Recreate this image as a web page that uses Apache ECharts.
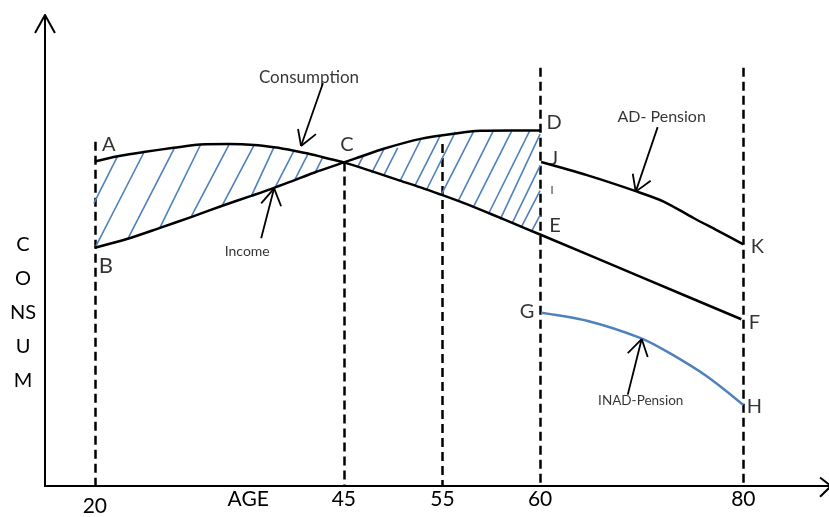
<!DOCTYPE html>
<html><head><meta charset="utf-8">
<script src="https://cdn.jsdelivr.net/npm/echarts@6/dist/echarts.min.js"></script>
<style>html,body{margin:0;padding:0;background:#fff}#c{width:829px;height:517px}</style>
</head><body><div id="c"></div>
<script>
// ---- data (schematic units: x = position along age axis, y = consumption level 0..100) ----
const ageLabels = ['20', '45', '55', '60', '80'];
const agePositions = [5.0, 30.0, 39.9, 49.7, 70.1];
const axisTitlePos = 20.4;
const axisTitle = 'AGE';
const dashTops = [73.1, 68.7, 72.6, 88.8, 88.8];

const consumption = [[5.0,68.9],[7.3,70.0],[9.9,70.9],[12.9,71.8],[15.6,72.5],[18.5,72.6],[21.0,72.4],[23.0,71.9],[25.0,71.2],[26.4,70.6],[27.9,69.8],[30.0,68.7],[32.7,66.9],[35.4,65.0],[37.7,63.4],[39.7,61.9],[42.0,60.1],[44.7,57.8],[47.2,55.6],[49.7,53.4],[59.8,44.4],[69.9,35.4]];
const income = [[5.0,50.6],[8.3,52.5],[11.4,54.7],[14.8,57.2],[17.8,59.5],[20.7,61.6],[23.0,63.3],[25.0,64.9],[27.0,66.5],[30.0,68.7],[31.5,69.8],[34.0,71.6],[37.7,73.7],[41.4,74.9],[43.7,75.4],[46.7,75.5],[49.7,75.5]];
const adPension = [[49.8,68.8],[54.4,66.0],[59.3,62.6],[62.1,60.4],[65.1,56.9],[67.8,53.9],[70.1,51.3]];
const inadPension = [[49.8,36.8],[54.4,35.1],[59.8,31.4],[62.8,28.1],[66.5,23.2],[70.1,17.2]];

const hatchSegments = [
  [[4.9,60.0],[7.3,70.1]],[[5.1,50.9],[9.9,70.7]],[[8.3,52.4],[13.0,71.8]],[[11.5,54.7],[15.6,72.4]],
  [[14.7,57.3],[18.5,72.6]],[[17.8,59.6],[21.0,72.4]],[[20.7,61.5],[23.0,72.0]],[[23.1,63.4],[25.0,71.2]],
  [[25.1,65.1],[26.4,70.5]],[[27.1,66.5],[27.9,69.9]],
  [[31.4,67.8],[31.9,69.9]],[[32.8,66.5],[34.0,71.4]],[[34.0,65.9],[35.4,71.8]],[[35.6,64.6],[37.7,73.5]],
  [[37.1,63.6],[39.7,74.5]],[[38.3,62.9],[41.2,75.2]],[[39.8,61.9],[43.0,75.2]],[[41.5,60.6],[45.0,75.4]],
  [[43.0,59.2],[46.9,75.6]],[[44.5,57.7],[48.7,75.6]],[[45.7,56.6],[49.7,74.7]],[[46.9,55.8],[49.7,68.0]],
  [[47.8,54.9],[49.7,62.7]],[[48.8,53.9],[49.7,57.5]]
];

const pointLetters = [['A',6.4,72.6],['B',6.1,46.7],['C',30.3,72.6],['D',51.1,77.1],['J',51.1,69.5],['I',50.9,62.7],['E',51.2,55.4],['K',71.5,50.9],['F',71.2,34.7],['G',48.4,37.1],['H',71.2,16.8]];
const annotations = [['Consumption',26.5,86.7],['Income',20.3,49.7],['AD- Pension',61.9,78.3],['INAD-Pension',59.8,18.1]];
const annotationArrows = [
  [[27.9,85.5],[25.7,72.2]],[[25.7,72.2],[25.4,75.8]],[[25.7,72.2],[27.2,74.7]],
  [[21.7,52.6],[23.0,63.2]],[[23.0,63.2],[21.7,60.0]],[[23.0,63.2],[23.7,59.4]],
  [[61.5,76.2],[59.3,62.5]],[[59.3,62.5],[59.0,66.3]],[[59.3,62.5],[60.8,64.8]],
  [[58.5,19.4],[59.9,31.2]],[[59.9,31.2],[58.5,28.2]],[[59.9,31.2],[60.5,27.4]]
];
const axisArrowHeads = [
  [[0,100],[-1.0,96.2]],[[0,100],[1.0,96.2]],
  [[78.9,0],[77.8,1.8]],[[78.9,0],[77.8,-2.3]]
];
const yTitleLines = ['C','O','NS','U','M'];

// ---- chart ----
const FONT = 'Lato, "Open Sans", sans-serif';
const annotationSize = {'Consumption':17,'Income':14,'AD- Pension':16,'INAD-Pension':13.5};
const chart = echarts.init(document.getElementById('c'), null, {renderer:'canvas'});

function segs(list){ return list.map(s => ({coords: s})); }
function nearestLabel(v){
  for (let i = 0; i < agePositions.length; i++) if (Math.abs(agePositions[i]-v) < 0.01) return i;
  return -1;
}
function curve(data, color){
  return {type: 'line', data: data, smooth: 0.3, showSymbol: false, z: 3,
          lineStyle: {color: color, width: 2.5}};
}

chart.setOption({
  animation: false,
  backgroundColor: '#fff',
  grid: {left: 45, right: 0, top: 15, bottom: 27, containLabel: false},
  xAxis: {
    type: 'value', min: 0, max: 78.7,
    axisLine: {lineStyle: {color: '#000', width: 2}},
    axisTick: {show: false},
    splitLine: {show: false},
    axisLabel: {
      customValues: agePositions.concat([axisTitlePos]),
      margin: 3,
      color: '#000', fontSize: 21, fontFamily: FONT,
      formatter: function (v) {
        const i = nearestLabel(v);
        if (i < 0) return axisTitle;
        return i === 0 ? '{low|' + ageLabels[i] + '}' : ageLabels[i];
      },
      rich: {low: {fontSize: 21, fontFamily: FONT, color: '#000', padding: [7, 0, 0, 0]}}
    }
  },
  yAxis: {
    type: 'value', min: 0, max: 100,
    axisLine: {show: true, lineStyle: {color: '#000', width: 2}},
    axisTick: {show: false}, axisLabel: {show: false}, splitLine: {show: false}
  },
  graphic: [{
    type: 'text', x: 23, y: 228,
    style: {text: yTitleLines.join('\n'), fill: '#000', font: '20px ' + FONT, textAlign: 'center', textVerticalAlign: 'top', lineHeight: 34}
  }],
  series: [
    {type: 'lines', coordinateSystem: 'cartesian2d', clip: false, z: 1,
     lineStyle: {color: '#000', width: 2.5, type: [9, 5], opacity: 1},
     data: agePositions.map((p, i) => ({coords: [[p, dashTops[i]], [p, 0]]}))},
    {type: 'lines', coordinateSystem: 'cartesian2d', clip: false, z: 2,
     lineStyle: {color: '#4F81BD', width: 1.6, opacity: 1}, data: segs(hatchSegments)},
    curve(consumption, '#000'),
    curve(income, '#000'),
    curve(adPension, '#000'),
    curve(inadPension, '#4F81BD'),
    {type: 'lines', coordinateSystem: 'cartesian2d', clip: false, z: 4,
     lineStyle: {color: '#000', width: 1.8, opacity: 1}, data: segs(annotationArrows)},
    {type: 'lines', coordinateSystem: 'cartesian2d', clip: false, z: 4,
     lineStyle: {color: '#000', width: 2, opacity: 1}, data: segs(axisArrowHeads)},
    {type: 'scatter', symbolSize: 0, z: 5, silent: true,
     data: pointLetters.map(d => ({value: [d[1], d[2]], name: d[0],
       label: {fontSize: d[0] === 'I' ? 11 : (d[0] === 'B' ? 22 : 20)}})),
     label: {show: true, position: 'inside', color: '#000', fontFamily: FONT, fontSize: 20,
       formatter: p => p.name}},
    {type: 'scatter', symbolSize: 0, z: 5, silent: true,
     data: annotations.map(d => ({value: [d[1], d[2]], name: d[0],
       label: {fontSize: annotationSize[d[0]]}})),
     label: {show: true, position: 'inside', color: '#000', fontFamily: FONT,
       formatter: p => p.name}}
  ]
});
</script></body></html>
